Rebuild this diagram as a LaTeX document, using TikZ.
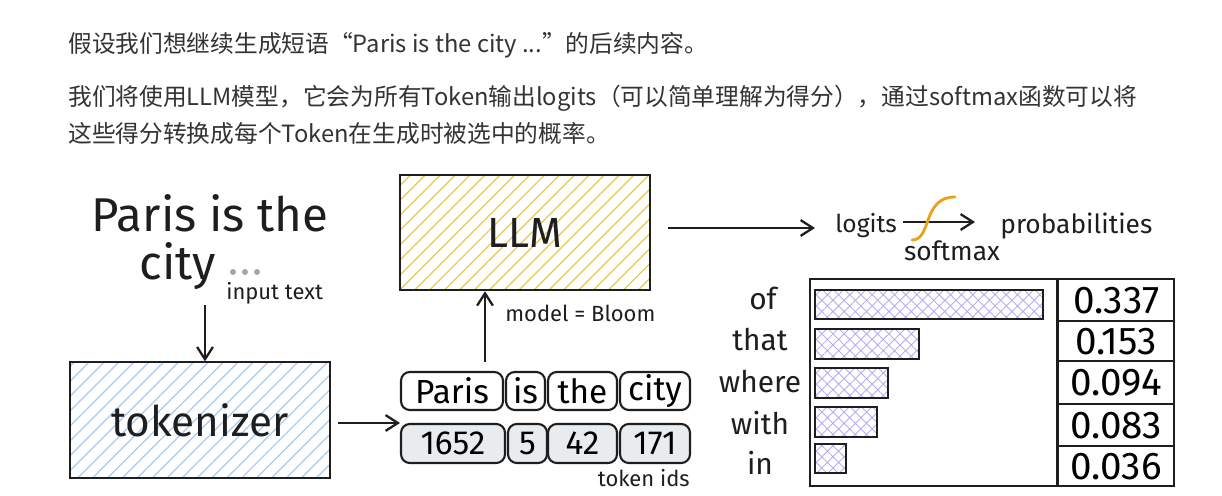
\documentclass[tikz,border=0pt]{standalone}
\usepackage{fontspec}
\setmainfont{Fira Sans}
\newfontfamily\cjk{Noto Sans CJK SC}
\usetikzlibrary{arrows.meta,patterns.meta}
\definecolor{ink}{HTML}{1E1E1E}
\definecolor{cjkgray}{HTML}{333333}
\definecolor{hyellow}{HTML}{E8C84A}
\definecolor{hblue}{HTML}{A8CBF0}
\definecolor{hpurple}{HTML}{B7ADF2}
\definecolor{sorange}{HTML}{E9A21C}
\definecolor{tokgray}{HTML}{E9ECEF}
\tikzset{
  box/.style={draw=ink, line width=1.4pt, inner sep=0pt},
  tokcell/.style={draw=ink, line width=1.2pt, rounded corners=5pt, inner sep=0pt, font=\fontsize{19}{19}\selectfont},
  idcell/.style={tokcell, fill=tokgray},
  arr/.style={draw=ink, line width=1.3pt, -{Straight Barb[length=7pt,width=9pt,line width=1.3pt]}},
  small/.style={font=\fontsize{12.5}{12.5}\selectfont, text=ink, inner sep=0pt},
  word/.style={font=\fontsize{17}{17}\selectfont, text=ink, inner sep=0pt},
  val/.style={draw=ink, line width=1.3pt, inner sep=0pt, minimum width=2.32cm, font=\fontsize{22}{22}\selectfont},
  bar/.style={draw=ink, line width=1.3pt, pattern={Hatch[angle=45,distance=4.5pt,line width=0.5pt]}, pattern color=hpurple},
}
\begin{document}
\begin{tikzpicture}[x=0.02cm,y=-0.02cm]
\useasboundingbox[fill=white] (0,0) rectangle (1222,496);

% header text
\node[anchor=west, inner sep=0pt, text=cjkgray, font=\cjk\fontsize{13.5}{13.5}\selectfont] (t1) at (68,45) {假设我们想继续生成短语“Paris is the city ...”的后续内容。};
\node[anchor=west, inner sep=0pt, text=cjkgray, font=\cjk\fontsize{13.5}{13.5}\selectfont] (t2) at (68,98) {我们将使用LLM模型，它会为所有Token输出logits（可以简单理解为得分），通过softmax函数可以将};
\node[anchor=west, inner sep=0pt, text=cjkgray, font=\cjk\fontsize{13.5}{13.5}\selectfont] (t3) at (68,133) {这些得分转换成每个Token在生成时被选中的概率。};

% input text
\node[inner sep=0pt, text=ink, font=\fontsize{27}{27}\selectfont] (inp1) at (210,213) {Paris is the};
\node[inner sep=0pt, text=ink, font=\fontsize{27}{27}\selectfont] (inp2) at (178,266) {city};
\foreach \dx in {0,12,24} \fill[gray!70] (233+\dx,272) circle (3);
\node[small, anchor=west] (inlabel) at (226,293) {input text};

% tokenizer
\node[box, minimum width=5.2cm, minimum height=2.32cm, pattern={Lines[angle=45,distance=6pt,line width=0.7pt]}, pattern color=hblue] (tok) at (200,420) {};
\node[inner sep=0pt, text=ink, font=\fontsize{24}{24}\selectfont] (toklab) at (tok) {tokenizer};
\coordinate (a1) at (205,305);
\draw[arr] (a1) -- (a1 |- tok.north);

% tokens
\node[tokcell, minimum width=2.04cm, minimum height=0.76cm] (p1) at (452,391) {Paris};
\node[tokcell, minimum width=0.78cm, minimum height=0.76cm] (p2) at (525.5,391) {is};
\node[tokcell, minimum width=1.38cm, minimum height=0.76cm] (p3) at (582.5,391) {the};
\node[tokcell, minimum width=1.40cm, minimum height=0.76cm] (p4) at (655,391) {city};
\node[idcell, minimum width=2.08cm, minimum height=0.78cm] (i1) at (453,443.5) {1652};
\node[idcell, minimum width=0.78cm, minimum height=0.78cm] (i2) at (527.5,443.5) {5};
\node[idcell, minimum width=1.38cm, minimum height=0.78cm] (i3) at (582.5,443.5) {42};
\node[idcell, minimum width=1.40cm, minimum height=0.78cm] (i4) at (655,443.5) {171};
\node[small, anchor=east] (tid) at (690,478) {token ids};
\coordinate (a2) at (338,423);
\draw[arr] (a2) -- (a2 -| i1.west);

% LLM
\node[box, minimum width=5.0cm, minimum height=2.3cm, pattern={Lines[angle=45,distance=6pt,line width=0.7pt]}, pattern color=hyellow] (llm) at (525,232.5) {};
\node[inner sep=0pt, text=ink, font=\fontsize{24}{24}\selectfont] (llmlab) at (llm) {LLM};
\coordinate (a3) at (485,362);
\draw[arr] (a3) -- (a3 |- llm.south);
\node[small, anchor=west] (mb) at (505,313) {model = Bloom};

% logits -> probabilities
\node[inner sep=0pt, text=ink, font=\fontsize{14}{14}\selectfont, anchor=west] (logits) at (835,226) {logits};
\node[inner sep=0pt, text=ink, font=\fontsize{15}{15}\selectfont, anchor=west] (prob) at (1000,226) {probabilities};
\coordinate (a4) at (668,228);
\coordinate (a4e) at (815,228);
\draw[arr] (a4) -- (a4e);
\coordinate (s1) at (903,222);
\coordinate (s2) at (975,222);
\draw[arr] (s1) -- (s2);
\draw[sorange, line width=1.6pt, line cap=round] (912,240) .. controls (932,240) and (922,197) .. (955,197);
\node[small, font=\fontsize{15}{15}\selectfont] (smx) at (952,251) {softmax};

% chart
\node[box, minimum width=7.28cm, minimum height=4.14cm, anchor=north west] (chart) at (809,278) {};
\draw[ink, line width=1.3pt] (1057,278) -- (1057,485);
\node[val, minimum height=0.84cm, anchor=north west] (v1) at (1057,278) {0.337};
\node[val, minimum height=0.80cm, anchor=north west] (v2) at (1057,320) {0.153};
\node[val, minimum height=0.86cm, anchor=north west] (v3) at (1057,360) {0.094};
\node[val, minimum height=0.84cm, anchor=north west] (v4) at (1057,403) {0.083};
\node[val, minimum height=0.80cm, anchor=north west] (v5) at (1057,445) {0.036};

\draw[bar] (815,290) rectangle (1043,319);
\draw[bar] (815,329) rectangle (919,359);
\draw[bar] (815,368) rectangle (888,398);
\draw[bar] (815,407) rectangle (877,437);
\draw[bar] (815,444) rectangle (846,473);

\node[word] (w1) at (763,298) {of};
\node[word] (w2) at (760,340) {that};
\node[word] (w3) at (760,382) {where};
\node[word] (w4) at (760,423) {with};
\node[word] (w5) at (760,463) {in};
\end{tikzpicture}
\end{document}
